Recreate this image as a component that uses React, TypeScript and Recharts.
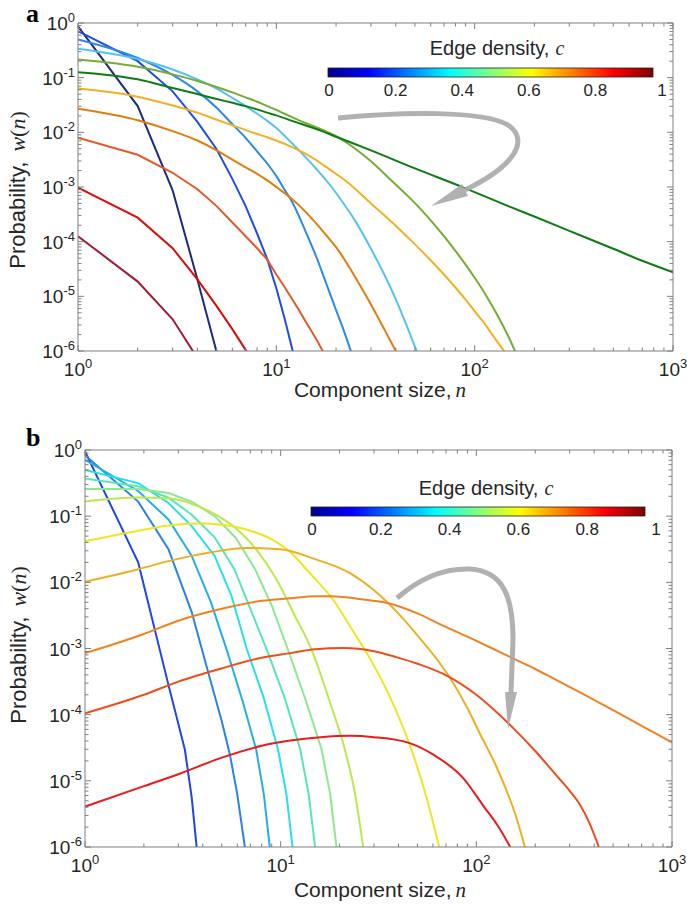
import { LineChart, Line, XAxis, YAxis } from 'recharts'

// ---- panel a: w(n) ----
const aNavyN = [1, 2, 3, 4, 5]
const aNavyW = [0.87, 3.02e-2, 8.71e-4, 2.04e-5, 9.55e-7]
const aBlueN = [1, 2, 3, 4, 5, 6, 7, 8, 9, 10, 11, 12, 13]
const aBlueW = [0.708, 0.2, 5.62e-2, 1.55e-2, 4.9e-3, 1.41e-3, 4.47e-4, 1.41e-4, 4.79e-5, 1.41e-5, 3.98e-6, 1.12e-6, 3.16e-7]
const aMidBlueN = [1, 2, 3, 4, 5, 6, 7, 8, 9, 10, 11, 12, 14, 16, 18, 20, 22, 24]
const aMidBlueW = [0.501, 0.229, 0.112, 5.62e-2, 2.82e-2, 1.41e-2, 7.94e-3, 4.47e-3, 2.69e-3, 1.58e-3, 8.91e-4, 5.37e-4, 1.58e-4, 5.01e-5, 1.58e-5, 5.62e-6, 2.24e-6, 8.91e-7]
const aSkyN = [1, 2, 3, 4, 5, 6, 7, 8, 9, 10, 12, 14, 16, 19, 22, 25, 30, 35, 40, 45, 51]
const aSkyW = [0.339, 0.219, 0.141, 9.33e-2, 6.31e-2, 4.27e-2, 3.02e-2, 2.19e-2, 1.62e-2, 1.2e-2, 6.31e-3, 3.55e-3, 2.09e-3, 1.0e-3, 4.79e-4, 2.4e-4, 7.41e-5, 2.51e-5, 8.91e-6, 3.16e-6, 1.0e-6]
const aOliveN = [1, 2, 3, 4, 5, 6, 7, 8, 9, 10, 11, 13, 15, 17, 20, 25, 30, 37, 45, 52, 60, 70, 80, 90, 100, 110, 120, 130, 140, 150, 161]
const aOliveW = [0.214, 0.158, 0.115, 8.71e-2, 6.76e-2, 5.37e-2, 4.37e-2, 3.63e-2, 3.02e-2, 2.57e-2, 2.19e-2, 1.66e-2, 1.35e-2, 1.12e-2, 8.51e-3, 5.01e-3, 2.95e-3, 1.45e-3, 7.41e-4, 4.37e-4, 2.45e-4, 1.26e-4, 6.76e-5, 3.8e-5, 2.19e-5, 1.29e-5, 7.59e-6, 4.57e-6, 2.75e-6, 1.66e-6, 9.33e-7]
const aGreenN = [1, 2, 3, 4, 5, 6, 7, 8, 9, 10, 12, 17, 20, 30, 50, 88, 150, 200, 300, 500, 700, 1000]
const aGreenW = [0.126, 9.33e-2, 6.46e-2, 5.01e-2, 4.07e-2, 3.47e-2, 3.02e-2, 2.63e-2, 2.29e-2, 2.04e-2, 1.62e-2, 1.05e-2, 8.32e-3, 4.68e-3, 2.19e-3, 9.77e-4, 4.37e-4, 2.88e-4, 1.58e-4, 7.41e-5, 4.47e-5, 2.75e-5]
const aGoldN = [1, 2, 3, 4, 5, 6, 7, 8, 9, 10, 12, 14, 17, 20, 23, 30, 40, 50, 60, 70, 80, 90, 100, 110, 120, 130, 146]
const aGoldW = [6.31e-2, 4.47e-2, 3.09e-2, 2.29e-2, 1.7e-2, 1.35e-2, 1.1e-2, 9.33e-3, 8.13e-3, 7.08e-3, 5.37e-3, 4.07e-3, 2.63e-3, 1.74e-3, 1.2e-3, 5.01e-4, 1.95e-4, 8.91e-5, 4.57e-5, 2.51e-5, 1.45e-5, 8.71e-6, 5.37e-6, 3.47e-6, 2.24e-6, 1.48e-6, 8.32e-7]
const aOrangeN = [1, 2, 3, 4, 5, 6, 7, 8, 9, 10, 12, 14, 16, 18, 20, 25, 30, 35, 40, 42]
const aOrangeW = [2.69e-2, 1.66e-2, 1.05e-2, 7.08e-3, 4.68e-3, 3.16e-3, 2.29e-3, 1.74e-3, 1.32e-3, 1.0e-3, 6.03e-4, 3.55e-4, 2.09e-4, 1.26e-4, 7.94e-5, 2.24e-5, 7.08e-6, 2.51e-6, 1.0e-6, 7.08e-7]
const aRustN = [1, 2, 3, 4, 5, 6, 7, 8, 9, 10, 11, 12, 13, 14, 15, 16, 17, 18]
const aRustW = [7.94e-3, 3.89e-3, 1.82e-3, 9.12e-4, 4.47e-4, 2.24e-4, 1.26e-4, 7.59e-5, 4.68e-5, 2.51e-5, 1.48e-5, 8.91e-6, 5.62e-6, 3.55e-6, 2.34e-6, 1.58e-6, 1.05e-6, 7.08e-7]
const aRedN = [1, 2, 3, 4, 5, 6, 7, 8]
const aRedW = [9.77e-4, 2.75e-4, 7.59e-5, 2.04e-5, 6.61e-6, 2.51e-6, 1.05e-6, 5.01e-7]
const aMaroonN = [1, 2, 3, 4]
const aMaroonW = [1.26e-4, 1.86e-5, 3.8e-6, 7.41e-7]

// ---- panel b ----
const bBlueN = [1, 1.87, 2.67, 3.24, 3.51, 3.72]
const bBlueW = [0.955, 2.0e-2, 2.82e-4, 2.95e-5, 5.62e-6, 1.0e-6]
const bMidBlueN = [1, 1.87, 2.67, 3.51, 4.3, 5.0, 5.5, 6.0, 6.6]
const bMidBlueW = [0.832, 0.166, 3.16e-2, 3.55e-3, 3.98e-4, 7.94e-5, 2.51e-5, 6.31e-6, 8.91e-7]
const bLightBlueN = [1, 1.87, 2.67, 3.51, 4.4, 5.3, 6.4, 7.5, 8.2, 8.8]
const bLightBlueW = [0.708, 0.24, 8.91e-2, 2.51e-2, 5.01e-3, 9.55e-4, 1.58e-4, 2.95e-5, 6.31e-6, 1.0e-6]
const bCyanN = [1, 1.87, 2.67, 3.51, 4.6, 5.6, 6.7, 8.2, 9.7, 10.7, 11.5]
const bCyanW = [0.501, 0.316, 0.158, 7.08e-2, 2.51e-2, 6.31e-3, 1.0e-3, 1.78e-4, 2.95e-5, 6.31e-6, 1.0e-6]
const bAquaN = [1, 1.87, 2.67, 3.51, 4.6, 5.8, 7.0, 8.5, 10.5, 12.6, 13.9, 15.0]
const bAquaW = [0.372, 0.282, 0.191, 0.105, 4.79e-2, 1.58e-2, 3.98e-3, 9.55e-4, 1.78e-4, 2.95e-5, 6.31e-6, 1.0e-6]
const bMintN = [1, 1.87, 2.67, 3.51, 4.6, 5.9, 7.4, 9.0, 10.9, 13.5, 16.2, 17.9, 19.3]
const bMintW = [0.257, 0.257, 0.224, 0.166, 0.1, 4.68e-2, 1.58e-2, 4.47e-3, 9.55e-4, 1.58e-4, 2.95e-5, 6.31e-6, 1.0e-6]
const bLimeN = [1, 1.87, 2.67, 3.7, 4.8, 6.0, 7.5, 9.5, 11.8, 14.4, 17.8, 21.3, 24, 26.4]
const bLimeW = [0.166, 0.191, 0.186, 0.145, 0.1, 6.31e-2, 3.16e-2, 1.12e-2, 3.16e-3, 9.55e-4, 1.58e-4, 2.95e-5, 6.31e-6, 1.0e-6]
const bYellowN = [1, 1.87, 2.67, 3.87, 5, 7, 9, 11.2, 14, 18.6, 23, 28.6, 36, 45.6, 55, 64.6]
const bYellowW = [4.17e-2, 6.03e-2, 7.24e-2, 7.76e-2, 7.41e-2, 6.03e-2, 4.47e-2, 2.88e-2, 1.41e-2, 5.37e-3, 2.0e-3, 7.08e-4, 1.91e-4, 3.55e-5, 6.31e-6, 1.0e-6]
const bGoldN = [1, 1.87, 2.67, 3.51, 4.5, 6.7, 10, 15, 22.6, 30, 37.6, 50, 71.8, 90, 104, 125, 145, 160, 177]
const bGoldW = [1.02e-2, 1.58e-2, 2.09e-2, 2.51e-2, 2.88e-2, 3.31e-2, 3.16e-2, 2.24e-2, 1.38e-2, 7.59e-3, 4.07e-3, 1.58e-3, 3.98e-4, 1.26e-4, 5.25e-5, 1.78e-5, 6.31e-6, 2.82e-6, 1.0e-6]
const bOrangeN = [1, 2, 3, 5, 8, 11.2, 15, 18, 25, 36, 50, 65, 90, 121, 154, 200, 250, 337, 500, 700, 1000]
const bOrangeW = [8.51e-4, 1.66e-3, 2.63e-3, 3.98e-3, 5.25e-3, 5.75e-3, 6.17e-3, 6.17e-3, 5.62e-3, 4.79e-3, 3.39e-3, 2.34e-3, 1.51e-3, 1.0e-3, 7.08e-4, 4.9e-4, 3.47e-4, 2.19e-4, 1.17e-4, 6.76e-5, 3.8e-5]
const bRustN = [1, 2, 3, 5, 8, 11.2, 15, 21, 30, 39, 50, 71.8, 100, 154, 200, 250, 300, 337, 380, 423]
const bRustW = [1.05e-4, 2.0e-4, 3.16e-4, 5.01e-4, 7.24e-4, 8.51e-4, 9.77e-4, 1.02e-3, 9.12e-4, 7.41e-4, 5.89e-4, 3.8e-4, 2.0e-4, 6.31e-5, 2.82e-5, 1.32e-5, 7.08e-6, 4.47e-6, 2.24e-6, 1.0e-6]
const bRedN = [1, 2, 3, 5, 8, 11.2, 16, 22.6, 30, 45.6, 60, 85.7, 110, 130, 149]
const bRedW = [4.07e-6, 8.32e-6, 1.26e-5, 2.24e-5, 3.39e-5, 4.07e-5, 4.57e-5, 4.79e-5, 4.57e-5, 3.72e-5, 2.51e-5, 1.1e-5, 3.98e-6, 2.0e-6, 1.0e-6]

const xMajor = [1, 10, 100, 1000]
const yMajor = [1e-6, 1e-5, 1e-4, 1e-3, 1e-2, 1e-1, 1]
const cbarLabels = ['0', '0.2', '0.4', '0.6', '0.8', '1']

const AXIS = '#808080'
const INK = '#262626'
const SANS = '"Liberation Sans", Arial, Helvetica, sans-serif'
const SERIF = '"Liberation Serif", "Times New Roman", serif'

type Series = { color: string; n: number[]; w: number[]; smooth?: boolean }

const seriesA: Series[] = [
  { color: '#1c2b7f', n: aNavyN, w: aNavyW },
  { color: '#1f4fe0', n: aBlueN, w: aBlueW },
  { color: '#2a8be6', n: aMidBlueN, w: aMidBlueW, smooth: true },
  { color: '#55c2f2', n: aSkyN, w: aSkyW, smooth: true },
  { color: '#78ab35', n: aOliveN, w: aOliveW, smooth: true },
  { color: '#0b7d12', n: aGreenN, w: aGreenW, smooth: true },
  { color: '#f2b124', n: aGoldN, w: aGoldW, smooth: true },
  { color: '#e07d0c', n: aOrangeN, w: aOrangeW, smooth: true },
  { color: '#e25a2a', n: aRustN, w: aRustW },
  { color: '#d60d0d', n: aRedN, w: aRedW },
  { color: '#a01c35', n: aMaroonN, w: aMaroonW },
]

const seriesB: Series[] = [
  { color: '#1f45e6', n: bBlueN, w: bBlueW },
  { color: '#2b82e6', n: bMidBlueN, w: bMidBlueW },
  { color: '#24aee8', n: bLightBlueN, w: bLightBlueW },
  { color: '#25dfee', n: bCyanN, w: bCyanW },
  { color: '#55e8b0', n: bAquaN, w: bAquaW },
  { color: '#8ee890', n: bMintN, w: bMintW },
  { color: '#bce84e', n: bLimeN, w: bLimeW, smooth: true },
  { color: '#efe622', n: bYellowN, w: bYellowW, smooth: true },
  { color: '#edb021', n: bGoldN, w: bGoldW, smooth: true },
  { color: '#ef8223', n: bOrangeN, w: bOrangeW, smooth: true },
  { color: '#ef4c17', n: bRustN, w: bRustW, smooth: true },
  { color: '#e81c1c', n: bRedN, w: bRedW, smooth: true },
]

const toPoints = (s: Series) => s.n.map((n, i) => ({ n, w: s.w[i] }))

function withMinor(majors: number[]) {
  const out: number[] = []
  majors.forEach((m, i) => {
    if (i === majors.length - 1) {
      out.push(m)
      return
    }
    for (let k = 1; k < 10; k++) out.push(m * k)
  })
  return out
}

const xTicks = withMinor(xMajor)
const yTicks = withMinor(yMajor)

const expOf = (v: number) => Math.round(Math.log10(v))
const isMajor = (v: number) => Math.abs(Math.log10(v) - expOf(v)) < 1e-6

function Pow({ x, y, v, anchor }: { x: number; y: number; v: number; anchor: 'middle' | 'end' }) {
  return (
    <text x={x} y={y} textAnchor={anchor} fontFamily={SANS} fontSize={19} fill={INK}>
      10
      <tspan dy={-8} fontSize={13}>
        {expOf(v)}
      </tspan>
    </text>
  )
}

function makeTick(side: 'bottom' | 'top' | 'left' | 'right') {
  return (props: any) => {
    const { x, y, payload } = props
    const v = payload.value
    const major = isMajor(v)
    const len = major ? 6 : 3.5
    let tick
    if (side === 'bottom') tick = <line x1={x} x2={x} y1={y} y2={y - len} stroke={AXIS} />
    else if (side === 'top') tick = <line x1={x} x2={x} y1={y} y2={y + len} stroke={AXIS} />
    else if (side === 'left') tick = <line x1={x} x2={x + len} y1={y} y2={y} stroke={AXIS} />
    else tick = <line x1={x} x2={x - len} y1={y} y2={y} stroke={AXIS} />
    return (
      <g>
        {tick}
        {major && side === 'bottom' && <Pow x={x} y={y + 25} v={v} anchor="middle" />}
        {major && side === 'left' && <Pow x={x - 3} y={y + 7} v={v} anchor="end" />}
      </g>
    )
  }
}

function Panel({ series, width, height, margin }: { series: Series[]; width: number; height: number; margin: any }) {
  return (
    <LineChart width={width} height={height} margin={margin}>
      <XAxis
        xAxisId="b"
        dataKey="n"
        type="number"
        scale="log"
        domain={[1, 1000]}
        allowDataOverflow
        ticks={xTicks}
        interval={0}
        height={1}
        tickSize={0}
        tickMargin={0}
        tickLine={false}
        axisLine={{ stroke: AXIS }}
        tick={makeTick('bottom')}
      />
      <XAxis
        xAxisId="t"
        orientation="top"
        dataKey="n"
        type="number"
        scale="log"
        domain={[1, 1000]}
        allowDataOverflow
        ticks={xTicks}
        interval={0}
        height={1}
        tickSize={0}
        tickMargin={0}
        tickLine={false}
        axisLine={{ stroke: AXIS }}
        tick={makeTick('top')}
      />
      <YAxis
        yAxisId="l"
        dataKey="w"
        type="number"
        scale="log"
        domain={[1e-6, 1]}
        allowDataOverflow
        ticks={yTicks}
        interval={0}
        width={1}
        tickSize={0}
        tickMargin={0}
        tickLine={false}
        axisLine={{ stroke: AXIS }}
        tick={makeTick('left')}
      />
      <YAxis
        yAxisId="r"
        orientation="right"
        dataKey="w"
        type="number"
        scale="log"
        domain={[1e-6, 1]}
        allowDataOverflow
        ticks={yTicks}
        interval={0}
        width={1}
        tickSize={0}
        tickMargin={0}
        tickLine={false}
        axisLine={{ stroke: AXIS }}
        tick={makeTick('right')}
      />
      {series.map((s, i) => (
        <Line
          key={i}
          xAxisId="b"
          yAxisId="l"
          data={toPoints(s)}
          dataKey="w"
          stroke={s.color}
          strokeWidth={2}
          dot={false}
          type={s.smooth ? 'monotoneX' : 'linear'}
          isAnimationActive={false}
        />
      ))}
    </LineChart>
  )
}

function ColorBar({ x0, x1, y, labelX0, labelX1 }: { x0: number; x1: number; y: number; labelX0: number; labelX1: number }) {
  return (
    <g>
      <rect x={x0} y={y} width={x1 - x0} height={9} fill="url(#jet)" stroke="#222" strokeWidth={0.8} />
      {cbarLabels.map((t, i) => (
        <text
          key={t}
          x={labelX0 + ((labelX1 - labelX0) * i) / (cbarLabels.length - 1)}
          y={y + 28}
          textAnchor="middle"
          fontFamily={SANS}
          fontSize={17}
          fill={INK}
        >
          {t}
        </text>
      ))}
    </g>
  )
}

function Overlay() {
  const title = { fontFamily: SANS, fill: INK }
  return (
    <svg width={687} height={908} style={{ position: 'absolute', left: 0, top: 0, pointerEvents: 'none' }}>
      <defs>
        <linearGradient id="jet" x1="0" x2="1" y1="0" y2="0">
          <stop offset="0" stopColor="#00008f" />
          <stop offset="0.125" stopColor="#0000ff" />
          <stop offset="0.375" stopColor="#00ffff" />
          <stop offset="0.625" stopColor="#ffff00" />
          <stop offset="0.875" stopColor="#ff0000" />
          <stop offset="1" stopColor="#800000" />
        </linearGradient>
      </defs>

      {/* panel letters */}
      <text x={26} y={22} fontFamily={SERIF} fontWeight="bold" fontSize={26} fill="#000">a</text>
      <text x={26} y={446} fontFamily={SERIF} fontWeight="bold" fontSize={26} fill="#000">b</text>

      {/* panel a */}
      <text x={497} y={55} textAnchor="middle" fontSize={20} {...title}>
        Edge density,<tspan dx={6} fontFamily={SERIF} fontStyle="italic">c</tspan>
      </text>
      <ColorBar x0={328} x1={653} y={68} labelX0={329} labelX1={662} />
      <path d="M338,118 C400,112 482,110 508,125 C530,140 515,166 465,190" fill="none" stroke="#a8a8a8" strokeWidth={5} opacity={0.9} />
      <polygon points="431,206 462,184 468,196" fill="#a8a8a8" opacity={0.9} />
      <text x={380} y={397} textAnchor="middle" fontSize={21} {...title}>
        Component size,<tspan dx={4} fontFamily={SERIF} fontStyle="italic">n</tspan>
      </text>
      <text transform="translate(25,190) rotate(-90)" textAnchor="middle" fontSize={22} {...title}>
        Probability,
        <tspan dx={10} fontFamily={SERIF} fontStyle="italic">w</tspan>
        <tspan fontFamily={SERIF}>(</tspan>
        <tspan fontFamily={SERIF} fontStyle="italic">n</tspan>
        <tspan fontFamily={SERIF}>)</tspan>
      </text>

      {/* panel b */}
      <text x={486} y={495} textAnchor="middle" fontSize={20} {...title}>
        Edge density,<tspan dx={6} fontFamily={SERIF} fontStyle="italic">c</tspan>
      </text>
      <ColorBar x0={311} x1={645} y={507} labelX0={312} labelX1={656} />
      <path d="M397,598 C420,578 445,568 470,569 C505,571 513,600 513,640 L511,693" fill="none" stroke="#a8a8a8" strokeWidth={5} opacity={0.9} />
      <polygon points="505,692 517,692 508,729" fill="#a8a8a8" opacity={0.9} />
      <text x={380} y={897} textAnchor="middle" fontSize={21} {...title}>
        Component size,<tspan dx={4} fontFamily={SERIF} fontStyle="italic">n</tspan>
      </text>
      <text transform="translate(26,645) rotate(-90)" textAnchor="middle" fontSize={22} {...title}>
        Probability,
        <tspan dx={10} fontFamily={SERIF} fontStyle="italic">w</tspan>
        <tspan fontFamily={SERIF}>(</tspan>
        <tspan fontFamily={SERIF} fontStyle="italic">n</tspan>
        <tspan fontFamily={SERIF}>)</tspan>
      </text>
    </svg>
  )
}

export default function App() {
  return (
    <div style={{ position: 'absolute', left: 0, top: 0, width: 687, height: 908, background: '#fff' }}>
      <div style={{ position: 'absolute', left: 0, top: 0 }}>
        <Panel series={seriesA} width={687} height={410} margin={{ top: 22, right: 13, bottom: 58, left: 77 }} />
      </div>
      <div style={{ position: 'absolute', left: 0, top: 430 }}>
        <Panel series={seriesB} width={687} height={478} margin={{ top: 19, right: 14, bottom: 60, left: 84 }} />
      </div>
      <Overlay />
    </div>
  )
}
